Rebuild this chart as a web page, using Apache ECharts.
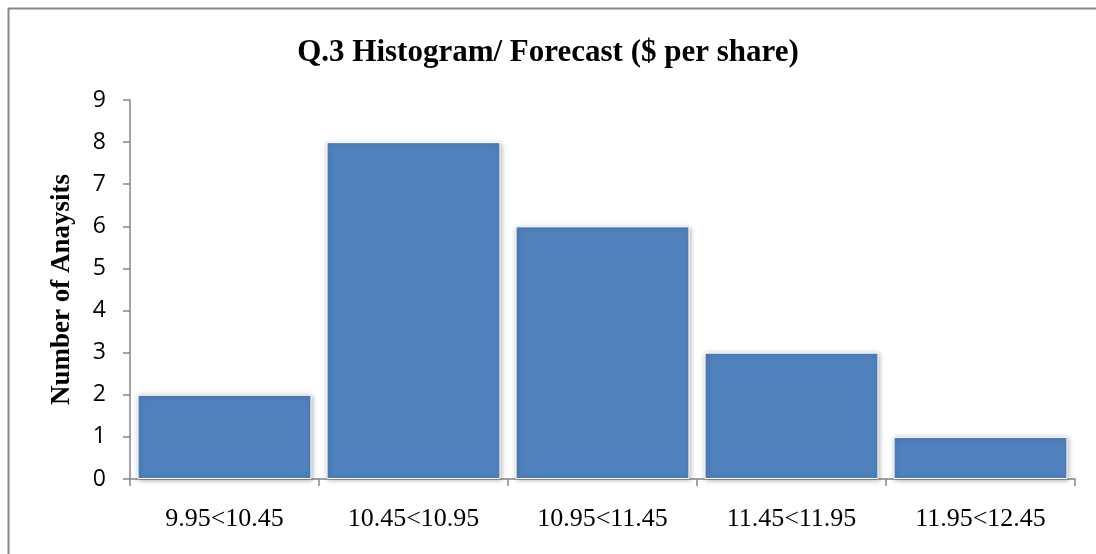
<!DOCTYPE html>
<html>
<head>
<meta charset="utf-8">
<script src="https://cdn.jsdelivr.net/npm/echarts@6/dist/echarts.min.js"></script>
<style>
html, body { margin: 0; padding: 0; background: #fff; }
#chart { width: 1096px; height: 554px; }
</style>
</head>
<body>
<div id="chart"></div>
<script>
var bins = ['9.95<10.45', '10.45<10.95', '10.95<11.45', '11.45<11.95', '11.95<12.45'];
var counts = [2, 8, 6, 3, 1];
var yTicks = { min: 0, max: 9, interval: 1 };

var myChart = echarts.init(document.getElementById('chart'));
var option = {
    backgroundColor: '#fff',
    title: {
        text: 'Q.3 Histogram/ Forecast ($ per share)',
        left: 'center',
        top: 32,
        textStyle: {
            fontFamily: 'Liberation Serif',
            fontWeight: 'bold',
            fontSize: 31,
            color: '#000'
        }
    },
    graphic: [
        { type: 'line', shape: { x1: 8, y1: 8.5, x2: 1096, y2: 8.5 }, style: { stroke: '#888', lineWidth: 2 } },
        { type: 'line', shape: { x1: 8.5, y1: 8, x2: 8.5, y2: 554 }, style: { stroke: '#888', lineWidth: 2 } }
    ],
    grid: { left: 130, right: 21, top: 100, bottom: 75 },
    xAxis: {
        type: 'category',
        data: bins,
        axisLine: { lineStyle: { color: '#868686', width: 1.5 } },
        axisTick: { show: true, interval: 0, length: 7, lineStyle: { color: '#868686', width: 1.5 } },
        axisLabel: {
            interval: 0,
            margin: 27,
            fontFamily: 'Liberation Serif',
            fontSize: 26,
            color: '#000'
        }
    },
    yAxis: {
        type: 'value',
        min: yTicks.min,
        max: yTicks.max,
        interval: yTicks.interval,
        name: 'Number of Anaysits',
        nameLocation: 'middle',
        nameGap: 54,
        nameTextStyle: {
            fontFamily: 'Liberation Serif',
            fontWeight: 'bold',
            fontSize: 27,
            color: '#000'
        },
        axisLine: { show: true, lineStyle: { color: '#868686', width: 1.5 } },
        axisTick: { show: true, length: 7, lineStyle: { color: '#868686', width: 1.5 } },
        splitLine: { show: false },
        axisLabel: {
            margin: 24,
            fontFamily: 'Open Sans',
            fontSize: 23,
            color: '#000'
        }
    },
    series: [{
        type: 'bar',
        data: counts,
        barCategoryGap: '8%',
        itemStyle: {
            color: '#4F81BD',
            borderColor: '#fff',
            borderWidth: 1,
            shadowBlur: 5,
            shadowColor: 'rgba(0,0,0,0.3)',
            shadowOffsetX: 1,
            shadowOffsetY: 1
        },
        emphasis: { disabled: true }
    }],
    animation: false
};
myChart.setOption(option);
window.onresize = function () {
    myChart.resize();
};
</script>
</body>
</html>
